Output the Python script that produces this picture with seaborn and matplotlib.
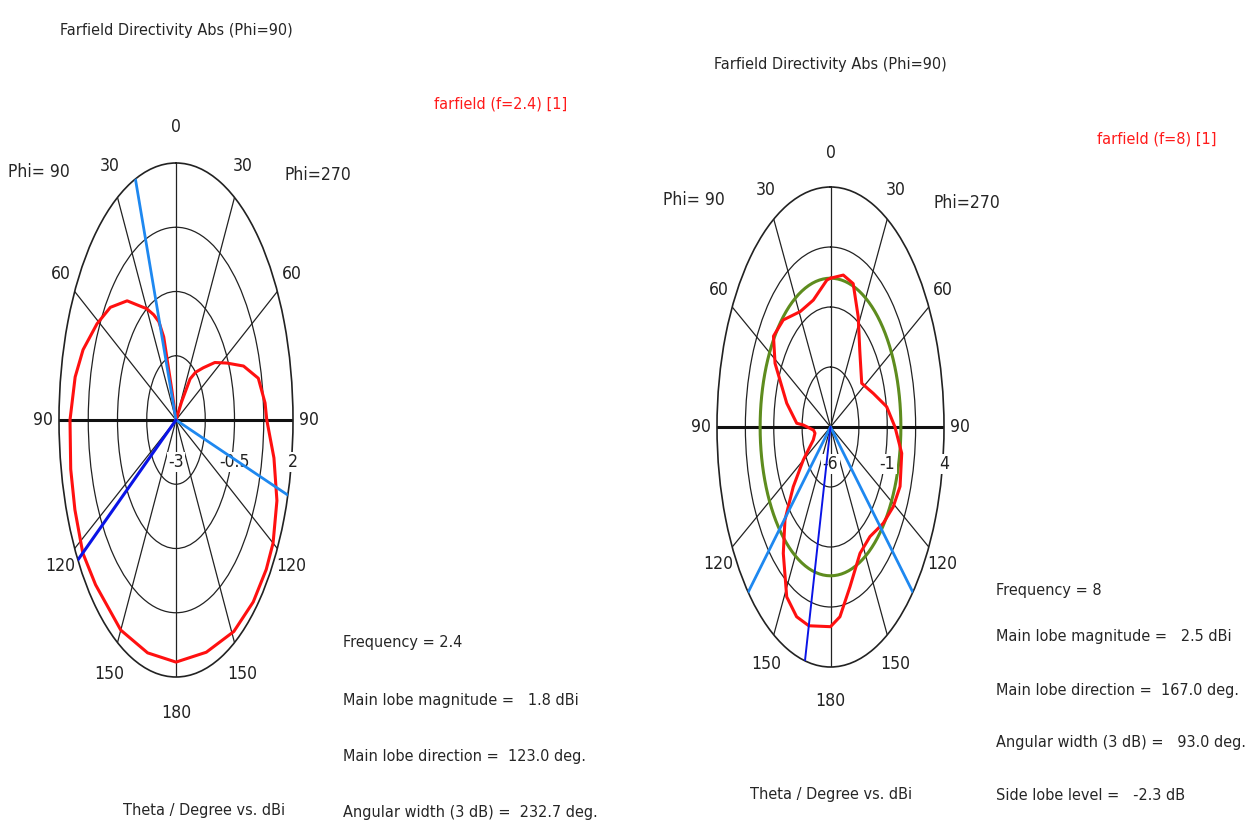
import numpy as np
import matplotlib
matplotlib.use("Agg")
import matplotlib.pyplot as plt
from matplotlib import font_manager as fm
import seaborn as sns

# ---- data (theta in deg, CCW from top = Phi 90 side) ----
theta_24 = [0, 10, 15, 17, 18, 21, 25, 30, 35, 42, 52, 61, 71, 79, 90, 102, 112, 123, 133,
            150, 165, 180, 196, 211, 223, 233, 240, 250, 260, 270, 275, 283, 290, 297, 304,
            311, 318, 323, 326, 328, 340, 350, 360]
dbi_24 = [-3.0, -3.0, -3.0, -2.4, -1.3, -0.95, -0.74, -0.5, -0.29, 0.12, 0.56, 0.86, 1.2, 1.39,
          1.53, 1.6, 1.66, 1.75, 1.7, 1.72, 1.69, 1.71, 1.7, 1.8, 1.84, 1.83, 1.79, 1.59, 1.25,
          0.88, 0.82, 0.61, 0.07, -0.56, -1.0, -1.45, -1.75, -2.0, -2.58, -3.0, -3.0, -3.0, -3.0]

theta_8 = [0, 3, 16, 29, 43, 53, 61.5, 75.6, 87, 88, 95, 100.7, 109.6, 119.8, 127.2, 134,
           141.7, 151.4, 159.3, 167, 180, 186, 194.5, 206.3, 217.3, 229.2, 239, 248, 260.1,
           270, 279.7, 290.4, 303.5, 313.3, 321, 332, 341.5, 349.9, 360]
dbi_8 = [0.2, 0.13, -0.5, -0.5, 0.1, 0.29, -0.44, -2.02, -3.02, -3.6, -4.5, -4.61, -4.39,
         -3.24, -1.88, -0.42, 0.71, 2.06, 2.45, 2.5, 2.32, 1.95, 0.87, -0.13, -0.26, 0.14,
         0.45, 0.61, 0.37, -0.32, -0.98, -1.98, -2.7, -2.34, -1.9, -0.8, 0.3, 0.43, 0.2]

# scale ranges (center, outer) and the labelled ring values
range_24 = (-3.0, 2.0)
range_8 = (-6.0, 4.0)
rlabels_24 = ["-3", "-0.5", "2"]
rlabels_8 = ["-6", "-1", "4"]
# main lobe direction and 3 dB beam edges
main_dir_24, edges_24 = 123.0, [20.3, 253.0]
main_dir_8, edges_8 = 167.0, [133.5, 226.5]
level_8 = 0.2  # green reference circle
angle_ticks = [0, 30, 60, 90, 120, 150, 180, 210, 240, 270, 300, 330]
angle_labels = ["0", "30", "60", "90", "120", "150", "180", "150", "120", "90", "60", "30"]

info_24 = ["Frequency = 2.4", "Main lobe magnitude =   1.8 dBi",
           "Main lobe direction =  123.0 deg.", "Angular width (3 dB) =  232.7 deg."]
info_8 = ["Frequency = 8", "Main lobe magnitude =   2.5 dBi",
          "Main lobe direction =  167.0 deg.", "Angular width (3 dB) =   93.0 deg.",
          "Side lobe level =   -2.3 dB"]

sns.set_style("white")

# the screenshot uses a tall narrow face; take a narrow one if there is one
FS = 10.5
plt.rcParams["font.family"] = ["DejaVu Sans"]
for f in fm.fontManager.ttflist:
    if "LiberationSansNarrow-Regular" in f.fname:
        plt.rcParams["font.family"] = [f.name, "DejaVu Sans"]
        FS = 14.5
        break
    if "DejaVuSansCondensed.ttf" in f.fname:
        plt.rcParams["font.family"] = [f.name, "DejaVu Sans"]
        plt.rcParams["font.stretch"] = f.stretch
        FS = 11.6

W, H = 1257, 831
fig = plt.figure(figsize=(W / 100, H / 100), dpi=100)


def px(x, y):
    return x / W, 1 - y / H


def polar_panel(rect, theta, dbi, rng, rlabels, main_dir, edges, lab_off, main_lw, level=None):
    rmin, rmax = rng
    ax = fig.add_axes(rect, projection="polar")
    ax.set_theta_zero_location("N")
    ax.set_theta_direction(1)
    ax.set_ylim(rmin, rmax)
    ax.set_aspect("auto")
    step = (rmax - rmin) / 4
    ax.set_yticks([rmin + step * k for k in range(1, 4)])
    ax.set_yticklabels([])
    ax.set_xticks(np.deg2rad(angle_ticks))
    ax.set_xticklabels([])
    ax.grid(True, color="#222222", lw=0.9)
    ax.spines["polar"].set_color("#222222")
    ax.spines["polar"].set_linewidth(1.2)
    # thick 90 - 90 axis
    for a in (90, 270):
        ax.plot([np.deg2rad(a)] * 2, [rmin, rmax], color="#111111", lw=2.2, zorder=2)
    # angle labels
    for a, t in zip(angle_ticks, angle_labels):
        ax.text(np.deg2rad(a), rmin + 1.14 * (rmax - rmin), t, ha="center", va="center",
                fontsize=FS + 1, color="#222222")
    # radial labels below the axis
    for t in rlabels:
        v = float(t)
        ax.annotate(t, xy=(np.deg2rad(270), v), xytext=(0, -lab_off), textcoords="offset pixels",
                    ha="center", va="center", fontsize=FS + 1, color="#222222",
                    bbox=dict(fc="white", ec="none", pad=1), zorder=4)
    if level is not None:
        circ = np.deg2rad(np.arange(0, 361, 3))
        sns.lineplot(x=circ, y=[level] * len(circ), ax=ax, sort=False, color="#5E8C1E",
                     lw=2.2, zorder=3)
    sns.lineplot(x=np.deg2rad(theta), y=dbi, ax=ax, sort=False, color="#FF1010", lw=2.2,
                 zorder=5)
    for e in edges:
        ax.plot([np.deg2rad(e)] * 2, [rmin, rmax], color="#1E88F0", lw=2.0, zorder=6)
    ax.plot([np.deg2rad(main_dir)] * 2, [rmin, rmax], color="#0A14E6", lw=main_lw, zorder=6)
    ax.set_xlabel("")
    ax.set_ylabel("")
    return ax


ax1 = polar_panel([59 / W, 1 - 677 / H, 234 / W, 514 / H], theta_24, dbi_24, range_24,
                  rlabels_24, main_dir_24, edges_24, 42, 2.2)
ax2 = polar_panel([717 / W, 1 - 667 / H, 227 / W, 480 / H], theta_8, dbi_8, range_8,
                  rlabels_8, main_dir_8, edges_8, 37, 1.4, level=level_8)

# titles and annotations
fig.text(*px(176, 30), "Farfield Directivity Abs (Phi=90)", ha="center", va="center", fontsize=FS)
fig.text(*px(830, 65), "Farfield Directivity Abs (Phi=90)", ha="center", va="center", fontsize=FS)
fig.text(*px(501, 104), "farfield (f=2.4) [1]", ha="center", va="center", fontsize=FS, color="#FF1A1A")
fig.text(*px(1157, 139), "farfield (f=8) [1]", ha="center", va="center", fontsize=FS, color="#FF1A1A")
fig.text(*px(39, 172), "Phi= 90", ha="center", va="center", fontsize=FS + 1)
fig.text(*px(318, 175), "Phi=270", ha="center", va="center", fontsize=FS + 1)
fig.text(*px(694, 200), "Phi= 90", ha="center", va="center", fontsize=FS + 1)
fig.text(*px(967, 203), "Phi=270", ha="center", va="center", fontsize=FS + 1)
fig.text(*px(204, 810), "Theta / Degree vs. dBi", ha="center", va="center", fontsize=FS)
fig.text(*px(831, 795), "Theta / Degree vs. dBi", ha="center", va="center", fontsize=FS)
for s, y in zip(info_24, [642, 700, 757, 812]):
    fig.text(*px(343, y), s, ha="left", va="center", fontsize=FS)
for s, y in zip(info_8, [590, 637, 690, 742, 795]):
    fig.text(*px(996, y), s, ha="left", va="center", fontsize=FS)

fig.savefig("out.png", dpi=100, facecolor="white")
